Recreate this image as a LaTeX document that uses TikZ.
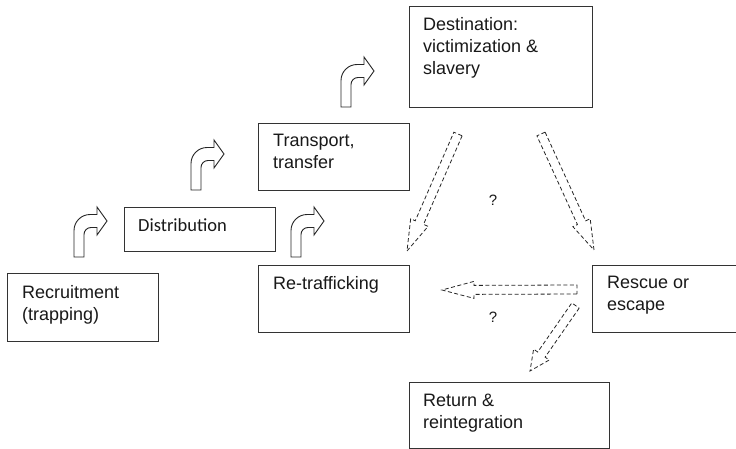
\documentclass[tikz,border=0pt]{standalone}
\usepackage{fontspec}
\setmainfont{Liberation Sans}
\newfontfamily\calfont{Carlito}
\usetikzlibrary{calc}
\newcommand\hollowarrow[5]{% #1 tail, #2 tip, #3 head length, #4 shaft half width, #5 head half width
  \draw[dasharr] ($(#1)!#4pt!90:(#2)$) -- ($(#2)!#3pt!(#1)!#4pt!90:(#2)$)
    -- ($(#2)!#3pt!(#1)!#5pt!90:(#2)$) -- (#2)
    -- ($(#2)!#3pt!(#1)!#5pt!-90:(#2)$) -- ($(#2)!#3pt!(#1)!#4pt!-90:(#2)$)
    -- ($(#1)!#4pt!-90:(#2)$) -- cycle;}
\begin{document}
\begin{tikzpicture}[x=1pt,y=-1pt,
  box/.style={draw=black!80, line width=0.9pt, rectangle, inner sep=0pt, anchor=north west},
  txt/.style={anchor=base west, inner sep=0pt, text=black!90, font=\fontsize{18}{22}\selectfont},
  dasharr/.style={draw=black!85, line width=0.8pt, dash pattern=on 4pt off 2.5pt, line join=miter},
  bent/.pic={\draw[line width=0.9pt, draw=black!85, fill=white]
     (0,0) -- (0,-26.5) .. controls (0,-35.3) and (7.2,-42.5) .. (16,-42.5)
     -- (23,-42.5) -- (23,-50) -- (33,-36) -- (23,-22) -- (23,-29.5) -- (17,-29.5)
     .. controls (13.1,-29.5) and (10,-26.4) .. (10,-22.5) -- (10,0) -- cycle;},
  qm/.style={font=\fontsize{15}{17}\selectfont, inner sep=0pt, text=black!90}]
\clip (0,0) rectangle (736,449);
\fill[white] (0,0) rectangle (736,449);

% boxes
\node[box, minimum width=151pt, minimum height=68pt] (recr) at (7,273) {};
\node[box, minimum width=151pt, minimum height=44pt] (dist) at (124,207) {};
\node[box, minimum width=151pt, minimum height=67pt] (trans) at (258,123) {};
\node[box, minimum width=183pt, minimum height=101pt] (dest) at (409,6) {};
\node[box, minimum width=151pt, minimum height=67pt] (retr) at (258,265) {};
\node[box, minimum width=153pt, minimum height=67pt] (resc) at (592,265) {};
\node[box, minimum width=200pt, minimum height=66pt] (ret) at (409,382) {};

% texts
\node[txt] (recrT) at ($(recr.north west)+(15,25)$) {\parbox[t]{140pt}{Recruitment\\(trapping)}};
\node[txt, font=\calfont\fontsize{18.5}{21}\selectfont] (distT) at ($(dist.north west)+(14,24)$) {Distribution};
\node[txt] (transT) at ($(trans.north west)+(15,24)$) {\parbox[t]{140pt}{Transport,\\transfer}};
\node[txt] (destT) at ($(dest.north west)+(14,25)$) {\parbox[t]{170pt}{Destination:\\victimization \&\\slavery}};
\node[txt] (retrT) at ($(retr.north west)+(15,24)$) {Re-trafficking};
\node[txt] (rescT) at ($(resc.north west)+(15,23)$) {\parbox[t]{140pt}{Rescue or\\escape}};
\node[txt] (retT) at ($(ret.north west)+(14,24)$) {\parbox[t]{180pt}{Return \&\\reintegration}};

% bent arrows
\pic at (74,257) {bent};
\pic at (191,190) {bent};
\pic at (291,257) {bent};
\pic at (341,107) {bent};

% dashed block arrows
\coordinate (a1t) at (458,134); \coordinate (a1h) at (407,251);
\coordinate (a2t) at (541,134); \coordinate (a2h) at (594,250);
\coordinate (a3t) at (577,289.5); \coordinate (a3h) at (442,290);
\coordinate (a4t) at (575.5,305.5); \coordinate (a4h) at (530,371);
\hollowarrow{a1t}{a1h}{31}{4.5}{9.5}
\hollowarrow{a2t}{a2h}{30}{4.5}{9.5}
\hollowarrow{a3t}{a3h}{32}{4.5}{8.5}
\hollowarrow{a4t}{a4h}{20}{4.5}{9.5}

% question marks
\node[qm] (q1) at (493,200) {?};
\node[qm] (q2) at (493,317) {?};
\end{tikzpicture}
\end{document}
